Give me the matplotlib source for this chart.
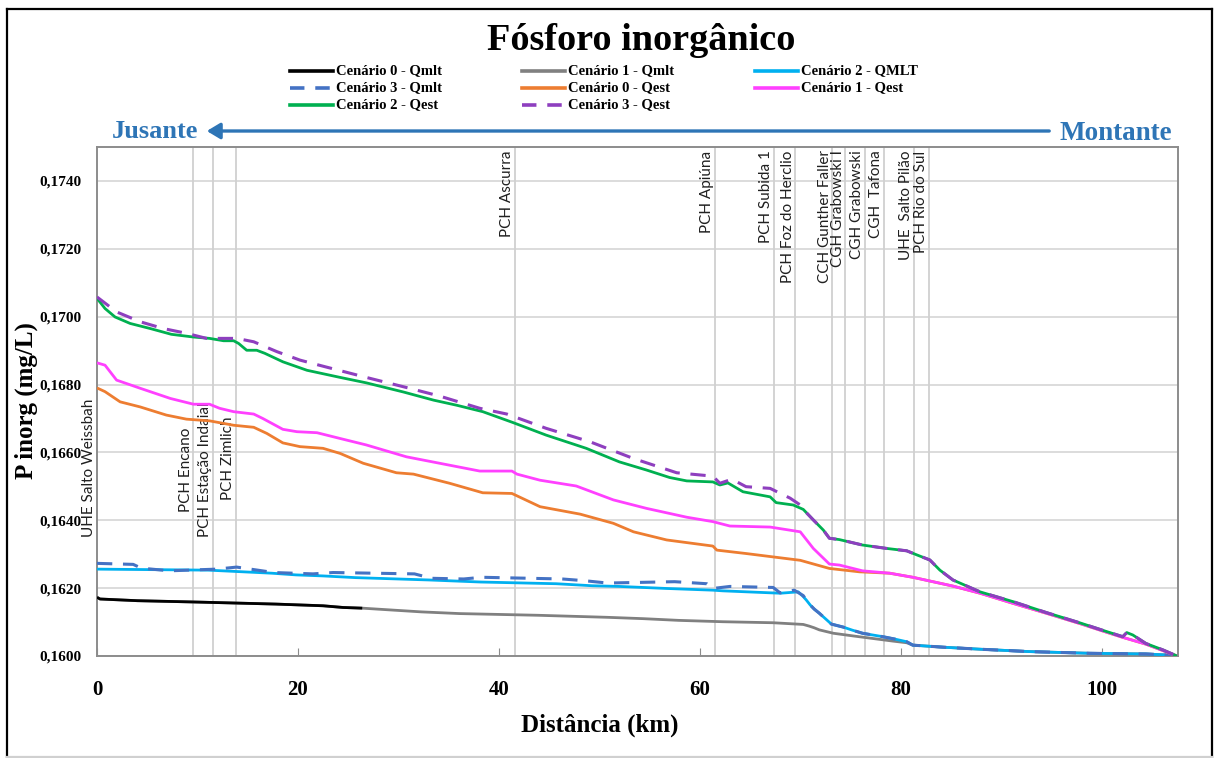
import matplotlib
matplotlib.use("Agg")
import matplotlib.pyplot as plt
from matplotlib.lines import Line2D
from matplotlib.patches import FancyArrowPatch
from matplotlib.ticker import FuncFormatter

# ---------------------------------------------------------------- data
# Cenário 0 - Qmlt
km_c0_qmlt = [0, 0.3, 4.0, 9.9, 17.8, 22.5, 24.5, 26.4]
p_c0_qmlt = [0.16173, 0.16168, 0.16163, 0.16159, 0.16153, 0.16148, 0.16143, 0.16141]

# Cenário 1 - Qmlt
km_c1_qmlt = [0, 0.3, 4.0, 9.9, 17.8, 22.5, 24.5, 26.4, 29.6, 32.3, 36.1, 43.9,
              50.8, 54.4, 57.9, 62.3, 67.3, 70.3, 70.9, 71.4, 71.9, 72.6, 73.3,
              74.3, 75.3, 76.6, 77.9, 79.2, 80.6, 81.2, 84.2, 87.9, 92.8, 98.8,
              104.4, 106.5, 107.5]
p_c1_qmlt = [0.16173, 0.16168, 0.16163, 0.16159, 0.16153, 0.16148, 0.16143, 0.16141,
             0.16135, 0.16130, 0.16125, 0.16120, 0.16114, 0.16110, 0.16105, 0.16101,
             0.16098, 0.16093, 0.16088, 0.16083, 0.16077, 0.16072, 0.16067, 0.16063,
             0.16059, 0.16054, 0.16049, 0.16044, 0.16039, 0.16032, 0.16026, 0.16020,
             0.16013, 0.16008, 0.16006, 0.16003, 0.16000]

# Cenário 2 - QMLT
km_c2_qmlt = [0, 11.1, 13.9, 17.4, 19.8, 22.5, 25.7, 33.1, 38.2, 45.7, 49.3, 52.0,
              56.7, 61.3, 62.3, 68.0, 69.8, 70.3, 70.6, 71.0, 71.4, 71.9, 72.5,
              73.1, 74.3, 75.2, 76.2, 77.2, 78.2, 79.4, 80.6, 81.2, 84.2, 87.9,
              92.8, 98.8, 104.4, 106.5, 107.5]
p_c2_qmlt = [0.16256, 0.16253, 0.16249, 0.16244, 0.16239, 0.16236, 0.16231, 0.16224,
             0.16218, 0.16213, 0.16207, 0.16205, 0.16199, 0.16194, 0.16192, 0.16185,
             0.16189, 0.16175, 0.16165, 0.16150, 0.16138, 0.16126, 0.16110, 0.16094,
             0.16085, 0.16076, 0.16067, 0.16062, 0.16057, 0.16050, 0.16042, 0.16032,
             0.16026, 0.16020, 0.16013, 0.16008, 0.16006, 0.16003, 0.16000]

# Cenário 3 - Qmlt
km_c3_qmlt = [0, 3.6, 4.4, 7.2, 11.9, 13.9, 17.6, 21.5, 23.5, 31.6, 33.3, 36.5,
              38.3, 46.3, 48.5, 50.8, 57.5, 60.7, 61.3, 63.0, 67.3, 68.0, 69.4,
              70.3, 70.6, 71.0, 71.4, 71.9, 72.5, 73.1, 74.3, 75.2, 76.2, 77.2,
              78.2, 79.4, 80.6, 81.2, 84.2, 87.9, 92.8, 98.8, 104.4, 106.5, 107.5]
p_c3_qmlt = [0.16273, 0.16270, 0.16259, 0.16251, 0.16256, 0.16262, 0.16246, 0.16242,
             0.16246, 0.16242, 0.16229, 0.16227, 0.16232, 0.16227, 0.16222, 0.16215,
             0.16219, 0.16213, 0.16199, 0.16205, 0.16202, 0.16186, 0.16194, 0.16178,
             0.16165, 0.16150, 0.16138, 0.16126, 0.16110, 0.16094, 0.16085, 0.16076,
             0.16067, 0.16062, 0.16057, 0.16050, 0.16042, 0.16032, 0.16026, 0.16020,
             0.16013, 0.16008, 0.16006, 0.16003, 0.16000]

# Cenário 0 - Qest
km_c0_qest = [0, 0.8, 2.3, 4.3, 6.9, 8.9, 11.2, 13.6, 15.6, 16.9, 18.5, 20.2, 22.5,
              24.2, 26.5, 29.8, 31.5, 35.1, 38.4, 41.3, 44.1, 48.1, 51.4, 53.4,
              56.7, 61.3, 61.7, 64.6, 67.3, 70.0, 72.9, 75.9, 78.9, 81.2, 83.2,
              85.2, 87.9, 91.2, 94.5, 97.8, 100.5, 102.1, 104.4, 106.1, 107.5]
p_c0_qest = [0.16790, 0.16779, 0.16749, 0.16734, 0.16710, 0.16698, 0.16693, 0.16680,
             0.16674, 0.16656, 0.16628, 0.16617, 0.16612, 0.16597, 0.16568, 0.16540,
             0.16536, 0.16509, 0.16481, 0.16479, 0.16440, 0.16418, 0.16391, 0.16366,
             0.16342, 0.16324, 0.16312, 0.16302, 0.16292, 0.16282, 0.16258, 0.16248,
             0.16244, 0.16232, 0.16219, 0.16206, 0.16185, 0.16155, 0.16126, 0.16096,
             0.16070, 0.16055, 0.16035, 0.16016, 0.16000]

# Cenário 1 - Qest
km_c1_qest = [0, 0.8, 1.95, 4.3, 7.3, 9.6, 11.2, 12.2, 13.6, 15.6, 16.5, 18.5, 19.9,
              21.9, 24.2, 26.8, 30.8, 34.1, 38.1, 41.3, 41.8, 44.1, 47.7, 51.4,
              54.7, 58.7, 61.3, 63.0, 67.0, 70.0, 71.3, 72.9, 73.9, 76.2, 78.9,
              81.2, 83.2, 85.2, 87.9, 91.2, 94.5, 97.8, 100.5, 102.1, 104.4, 106.1,
              107.5]
p_c1_qest = [0.16864, 0.16857, 0.16813, 0.16789, 0.16759, 0.16742, 0.16742, 0.16730,
             0.16720, 0.16713, 0.16700, 0.16668, 0.16661, 0.16658, 0.16641, 0.16622,
             0.16587, 0.16568, 0.16545, 0.16545, 0.16536, 0.16518, 0.16501, 0.16460,
             0.16435, 0.16409, 0.16396, 0.16383, 0.16380, 0.16366, 0.16317, 0.16271,
             0.16268, 0.16251, 0.16244, 0.16232, 0.16219, 0.16206, 0.16185, 0.16155,
             0.16126, 0.16096, 0.16070, 0.16055, 0.16035, 0.16016, 0.16000]

# Cenário 2 - Qest
km_c2_qest = [0, 0.8, 1.8, 3.3, 5.3, 7.4, 9.6, 11.2, 12.6, 13.6, 14.1, 14.9, 15.9,
              16.7, 18.5, 20.9, 24.2, 26.8, 30.5, 33.5, 35.8, 38.4, 41.4, 44.7,
              48.7, 52.0, 54.7, 57.0, 58.7, 61.3, 62.0, 62.8, 64.3, 67.0, 67.6,
              69.3, 70.3, 71.3, 72.3, 72.9, 73.9, 76.2, 78.6, 80.6, 81.6, 82.9,
              83.9, 85.2, 87.9, 91.2, 94.5, 97.8, 100.5, 102.1, 102.5, 103.1,
              104.4, 106.1, 107.5]
p_c2_qest = [0.17054, 0.17024, 0.16999, 0.16980, 0.16965, 0.16948, 0.16940, 0.16936,
             0.16929, 0.16929, 0.16921, 0.16901, 0.16901, 0.16892, 0.16867, 0.16842,
             0.16821, 0.16805, 0.16778, 0.16754, 0.16739, 0.16720, 0.16688, 0.16651,
             0.16612, 0.16572, 0.16548, 0.16526, 0.16516, 0.16513, 0.16504, 0.16510,
             0.16484, 0.16469, 0.16452, 0.16445, 0.16432, 0.16401, 0.16371, 0.16347,
             0.16343, 0.16327, 0.16317, 0.16310, 0.16298, 0.16283, 0.16253, 0.16224,
             0.16189, 0.16160, 0.16128, 0.16098, 0.16072, 0.16057, 0.16069, 0.16062,
             0.16037, 0.16018, 0.16000]

# Cenário 3 - Qest
km_c3_qest = [0, 1.95, 4.3, 6.6, 8.9, 10.9, 13.9, 15.6, 17.9, 20.2, 22.5, 26.8,
              31.1, 34.1, 38.1, 40.8, 44.7, 49.1, 53.4, 57.7, 61.3, 62.0, 63.2,
              64.6, 67.0, 69.0, 70.0, 70.3, 71.3, 72.3, 72.9, 73.9, 76.2, 78.6,
              80.6, 81.6, 82.9, 83.9, 85.2, 87.9, 91.2, 94.5, 97.8, 100.5, 102.1,
              102.5, 103.1, 104.4, 106.1, 107.5]
p_c3_qest = [0.17058, 0.17014, 0.16985, 0.16965, 0.16951, 0.16936, 0.16936, 0.16926,
             0.16897, 0.16872, 0.16854, 0.16821, 0.16789, 0.16766, 0.16730, 0.16713,
             0.16671, 0.16631, 0.16582, 0.16540, 0.16530, 0.16509, 0.16521, 0.16499,
             0.16494, 0.16465, 0.16445, 0.16432, 0.16401, 0.16371, 0.16347, 0.16343,
             0.16327, 0.16317, 0.16310, 0.16298, 0.16283, 0.16253, 0.16224, 0.16189,
             0.16160, 0.16128, 0.16098, 0.16072, 0.16057, 0.16069, 0.16062, 0.16037,
             0.16018, 0.16000]

# Hydropower plants along the river (km)
plant_names = ["UHE Salto Weissbah", "PCH Encano", "PCH Estação Indaial", "PCH Zimlich",
               "PCH Ascurra", "PCH Apiúna", "PCH Subida 1", "PCH Foz do Herclio",
               "CCH Gunther Faller", "CGH Grabowski I", "CGH Grabowski",
               "CGH  Tafona", "UHE  Salto Pilão", "PCH Rio do Sul"]
plant_km = [0.0, 9.6, 11.5, 13.8, 41.6, 61.5, 67.4, 69.5, 73.2, 74.5, 76.4,
            78.3, 81.3, 82.8]

y_ticks = [0.1600, 0.1620, 0.1640, 0.1660, 0.1680, 0.1700, 0.1720, 0.1740]
x_ticks = [0, 20, 40, 60, 80, 100]

# ---------------------------------------------------------------- style
W, H = 1215, 758
SERIF = ["Liberation Serif", "DejaVu Serif"]
SANS = ["Lato", "DejaVu Sans"]
BLUE = "#2E75B6"


def fx(px):
    return px / W


def fy(py):
    return 1 - py / H


series = [
    # label, x, y, color, dashed, zorder
    ("Cenário 1 - Qmlt", km_c1_qmlt, p_c1_qmlt, "#808080", False, 3),
    ("Cenário 0 - Qmlt", km_c0_qmlt, p_c0_qmlt, "#000000", False, 4),
    ("Cenário 2 - QMLT", km_c2_qmlt, p_c2_qmlt, "#00B0F0", False, 5),
    ("Cenário 3 - Qmlt", km_c3_qmlt, p_c3_qmlt, "#4472C4", True, 6),
    ("Cenário 0 - Qest", km_c0_qest, p_c0_qest, "#ED7D31", False, 7),
    ("Cenário 1 - Qest", km_c1_qest, p_c1_qest, "#FF40FF", False, 8),
    ("Cenário 2 - Qest", km_c2_qest, p_c2_qest, "#00B050", False, 9),
    ("Cenário 3 - Qest", km_c3_qest, p_c3_qest, "#8E3FBF", True, 10),
]
style_of = {s[0]: s for s in series}

fig = plt.figure(figsize=(W / 100, H / 100), dpi=100)
fig.patch.set_facecolor("white")
ax = fig.add_axes([fx(97), fy(656), fx(1178) - fx(97), fy(147) - fy(656)])

for label, xs, ys, color, dashed, z in series:
    kw = dict(color=color, lw=2.0, zorder=z, solid_capstyle="butt")
    if dashed:
        kw.update(linestyle=(0, (5, 3.5)), lw=2.2)
    ax.plot(xs, ys, **kw)

# plant markers
label_bottom = {"UHE Salto Weissbah": 0.16351, "PCH Encano": 0.16424,
                "PCH Estação Indaial": 0.16351, "PCH Zimlich": 0.16459}
for name, k in zip(plant_names, plant_km):
    if k > 0:
        ax.axvline(k, color="#D0D0D0", lw=1.3, zorder=1)
    if name in label_bottom:
        y, va = label_bottom[name], "bottom"
    else:
        y, va = 0.17490, "top"
    ax.annotate(name, xy=(k, y), xytext=(-0.5, 0), textcoords="offset points",
                rotation=90, ha="right", va=va, fontsize=11, family=SANS,
                color="#202020", annotation_clip=False, zorder=2)

ax.set_xlim(0, 107.6)
ax.set_ylim(0.1600, 0.1750)
ax.set_yticks(y_ticks)
ax.set_xticks(x_ticks)
ax.yaxis.set_major_formatter(FuncFormatter(lambda v, _: f"{v:.4f}".replace(".", ",")))
ax.grid(axis="y", color="#D9D9D9", lw=1.3, zorder=0)
ax.set_axisbelow(True)
for sp in ax.spines.values():
    sp.set_color("#8C8C8C")
    sp.set_linewidth(1.4)
ax.tick_params(axis="y", length=0, pad=11)
ax.tick_params(axis="x", direction="in", length=6, color="#8C8C8C", pad=17)
for t in ax.get_yticklabels():
    t.set_fontfamily(SERIF)
    t.set_fontweight("bold")
    t.set_fontsize(11)
for t in ax.get_xticklabels():
    t.set_fontfamily(SERIF)
    t.set_fontweight("bold")
    t.set_fontsize(15)

# titles and axis labels
fig.text(fx(641), fy(41), "Fósforo inorgânico", ha="center", va="center",
         fontsize=27.5, fontweight="bold", family=SERIF)
fig.text(fx(26), fy(401), "P inorg (mg/L)", rotation=90, ha="center", va="center",
         fontsize=18, fontweight="bold", family=SERIF)
fig.text(fx(600), fy(725), "Distância (km)", ha="center", va="center",
         fontsize=18, fontweight="bold", family=SERIF)

# legend (three columns, filled row by row)
legend_order = ["Cenário 0 - Qmlt", "Cenário 1 - Qmlt", "Cenário 2 - QMLT",
                "Cenário 3 - Qmlt", "Cenário 0 - Qest", "Cenário 1 - Qest",
                "Cenário 2 - Qest", "Cenário 3 - Qest"]
col_x = [290, 522, 755]
row_y = [71, 88, 105]
for i, name in enumerate(legend_order):
    _, _, _, color, dashed, _ = style_of[name]
    x0 = col_x[i % 3]
    y0 = row_y[i // 3]
    ln = Line2D([fx(x0), fx(x0 + 43)], [fy(y0), fy(y0)], transform=fig.transFigure,
                color=color, lw=2.6,
                linestyle=(0, (4, 3)) if dashed else "-")
    fig.add_artist(ln)
    fig.text(fx(x0 + 46), fy(y0), name, ha="left", va="center", fontsize=10.5,
             fontweight="bold", family=SERIF)

# flow direction
arrow = FancyArrowPatch((fx(1052), fy(131)), (fx(204), fy(131)),
                        transform=fig.transFigure,
                        arrowstyle="-|>,head_length=5,head_width=3",
                        color=BLUE, lw=2.4, mutation_scale=1.6)
fig.add_artist(arrow)
fig.text(fx(155), fy(131), "Jusante", ha="center", va="center", color=BLUE,
         fontsize=19, fontweight="bold", family=SERIF)
fig.text(fx(1116), fy(134), "Montante", ha="center", va="center", color=BLUE,
         fontsize=19.5, fontweight="bold", family=SERIF)

# outer frame: dark on three sides, light at the bottom
for xs_, ys_, col in [((7, 7), (9, 757), "black"), ((7, 1212), (9, 9), "black"),
                      ((1212, 1212), (9, 757), "black"), ((7, 1212), (757, 757), "#D0D0D0")]:
    fig.add_artist(Line2D([fx(v) for v in xs_], [fy(v) for v in ys_],
                          transform=fig.transFigure, color=col, lw=1.6))

fig.savefig("out.png", dpi=100)
